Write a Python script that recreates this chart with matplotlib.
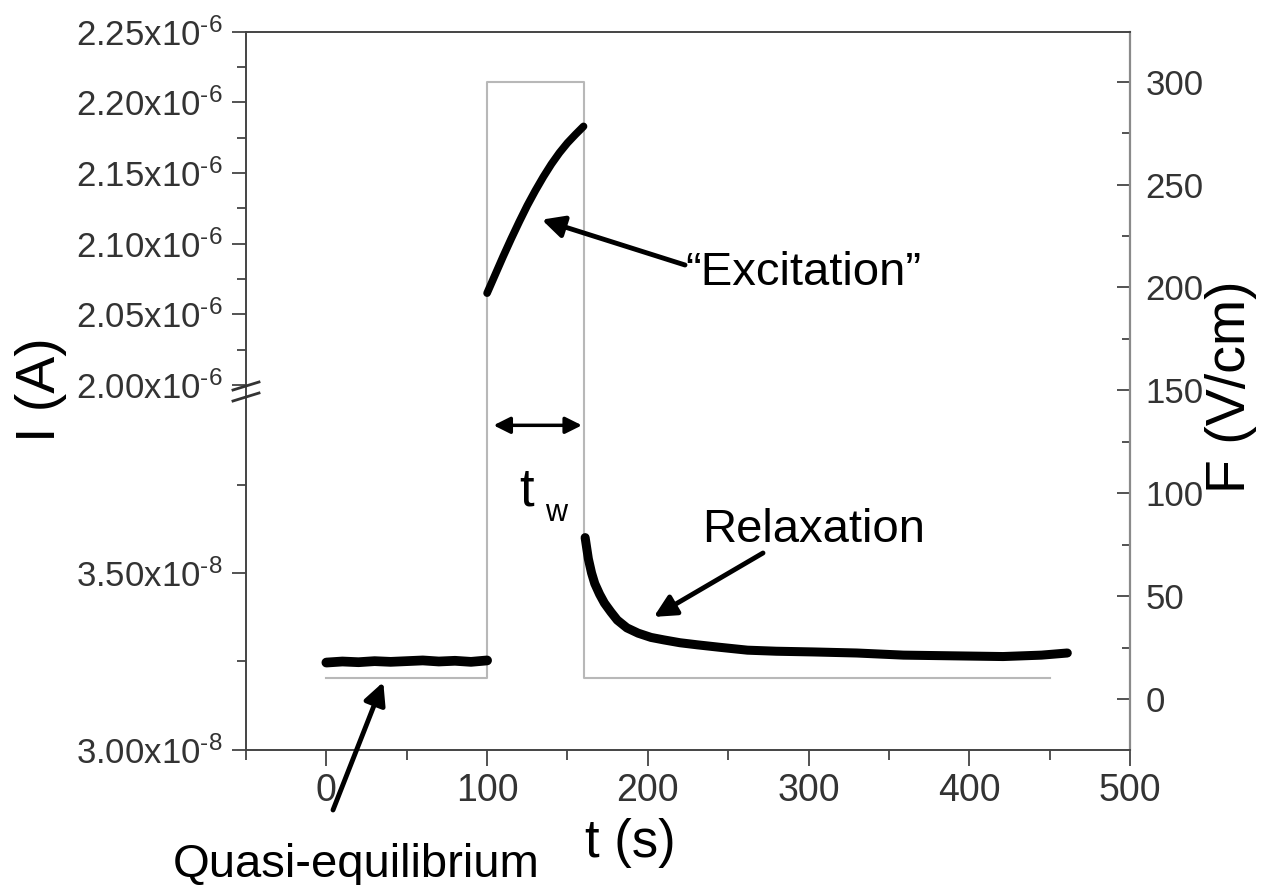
import numpy as np
import matplotlib
matplotlib.use("Agg")
import matplotlib.pyplot as plt
from matplotlib.ticker import FixedLocator, MultipleLocator
from matplotlib.lines import Line2D

plt.rcParams['font.family'] = ['Liberation Sans', 'DejaVu Sans']
plt.rcParams['mathtext.fontset'] = 'custom'
plt.rcParams['mathtext.rm'] = 'Liberation Sans'

# pomiar pradu (A)
t_quasi = [0, 10, 20, 30, 40, 50, 60, 70, 80, 90, 100]
I_quasi = [3.247e-8, 3.250e-8, 3.248e-8, 3.251e-8, 3.249e-8, 3.251e-8,
           3.253e-8, 3.250e-8, 3.252e-8, 3.249e-8, 3.253e-8]

t_exc = [100, 105, 110, 115, 120, 125, 130, 135, 140, 145, 150, 155, 160]
I_exc = [2.0650e-6, 2.0780e-6, 2.0910e-6, 2.1035e-6, 2.1155e-6, 2.1270e-6,
         2.1375e-6, 2.1473e-6, 2.1563e-6, 2.1643e-6, 2.1713e-6, 2.1773e-6,
         2.1830e-6]

t_rel = [161, 162, 163, 165, 167, 170, 173, 177, 181, 187, 194, 202, 210, 220,
         231, 245, 262, 280, 303, 330, 359, 390, 421, 445, 461]
I_rel = [3.600e-8, 3.570e-8, 3.540e-8, 3.500e-8, 3.470e-8, 3.440e-8, 3.415e-8,
         3.390e-8, 3.367e-8, 3.345e-8, 3.330e-8, 3.318e-8, 3.311e-8, 3.303e-8,
         3.297e-8, 3.290e-8, 3.282e-8, 3.279e-8, 3.277e-8, 3.274e-8, 3.268e-8,
         3.266e-8, 3.264e-8, 3.268e-8, 3.274e-8]

# pole elektryczne F (V/cm)
t_field = [0, 100, 160, 450]
F_field = [10, 300, 10, 10]

# osie
upper_ticks = [2.00e-6, 2.05e-6, 2.10e-6, 2.15e-6, 2.20e-6, 2.25e-6]
upper_labels = ['2.00', '2.05', '2.10', '2.15', '2.20', '2.25']
lower_ticks = [3.00e-8, 3.50e-8]
lower_labels = ['3.00', '3.50']
F_ticks = [0, 50, 100, 150, 200, 250, 300]
t_ticks = [0, 100, 200, 300, 400, 500]

W, H = 1261, 885
fig = plt.figure(figsize=(W / 100, H / 100), dpi=100)


def fx(x):
    return x / W


def fy(y):
    return 1 - y / H


def sci(m, e):
    return rf'$\mathregular{{{m}x10^{{\text{{-{e}}}}}}}$'


left, right = fx(246), fx(1130)
bot, top = fy(750), fy(31.7)

ax = fig.add_axes([left, bot, right - left, top - bot])
ax.set_xlim(-50, 500)
ax.set_ylim(-24.8, 324.3)
ax.step(t_field, F_field, where='post', color='#b8b8b8', lw=1.5)
ax.yaxis.tick_right()
ax.yaxis.set_major_locator(FixedLocator(F_ticks))
ax.yaxis.set_minor_locator(MultipleLocator(25))
ax.xaxis.set_major_locator(FixedLocator(t_ticks))
ax.xaxis.set_minor_locator(MultipleLocator(50))
ax.tick_params(axis='y', which='major', direction='in', length=9.5, width=1.3,
               pad=11, labelsize=25, labelcolor='#333333', color='#444444')
ax.tick_params(axis='y', which='minor', direction='in', length=5.5, width=1.3,
               color='#444444')
ax.tick_params(axis='x', which='major', direction='out', length=11.5, width=1.3,
               pad=5, labelsize=27, labelcolor='#333333', color='#444444')
ax.tick_params(axis='x', which='minor', direction='out', length=7, width=1.3,
               color='#444444')
for s in ['left', 'bottom', 'top']:
    ax.spines[s].set_color('#444444')
    ax.spines[s].set_linewidth(1.4)
ax.spines['right'].set_color('#8a8a8a')
ax.spines['right'].set_linewidth(1.6)

# gorna i dolna czesc (przerwana os)
ax_hi = fig.add_axes([left, fy(385), right - left, top - fy(385)])
ax_lo = fig.add_axes([left, bot, right - left, fy(396) - bot])
for a in (ax_hi, ax_lo):
    a.patch.set_alpha(0)
    a.set_xlim(-50, 500)
    for s in a.spines.values():
        s.set_visible(False)
    a.tick_params(axis='x', which='both', bottom=False, labelbottom=False)
    a.tick_params(axis='y', which='major', direction='out', length=10, width=1.3,
                  pad=7, labelsize=25, labelcolor='#333333', color='#444444')
    a.tick_params(axis='y', which='minor', direction='out', length=6.5, width=1.3,
                  color='#444444')

ax_hi.set_ylim(2.00e-6, 2.25e-6)
ax_hi.yaxis.set_major_locator(FixedLocator(upper_ticks))
ax_hi.set_yticklabels([sci(m, 6) for m in upper_labels])
ax_hi.yaxis.set_minor_locator(FixedLocator([2.025e-6, 2.075e-6, 2.125e-6, 2.175e-6, 2.225e-6]))

ax_lo.set_ylim(3.00e-8, 4.00e-8)
ax_lo.yaxis.set_major_locator(FixedLocator(lower_ticks))
ax_lo.set_yticklabels([sci(m, 8) for m in lower_labels])
ax_lo.yaxis.set_minor_locator(FixedLocator([3.25e-8, 3.75e-8]))

ax_hi.plot(t_exc, I_exc, color='black', lw=5.5, solid_capstyle='round',
           solid_joinstyle='round')
ax_lo.plot(t_quasi, I_quasi, color='black', lw=7, solid_capstyle='round')
ax_lo.plot(t_rel, I_rel, color='black', lw=6.5, solid_capstyle='round',
           solid_joinstyle='round')

# znak przerwania osi
for yb in (386, 397):
    fig.add_artist(Line2D([fx(233), fx(259)], [fy(yb + 4), fy(yb - 4)],
                          color='#333333', lw=2))

# opisy osi
fig.text(fx(41), fy(390), 'I (A)', rotation=90, ha='center', va='center', fontsize=40)
fig.text(fx(1231), fy(387), 'F (V/cm)', rotation=90, ha='center', va='center', fontsize=40)
fig.text(fx(630), fy(843), 't (s)', ha='center', va='center', fontsize=38)

# adnotacje
arrow = dict(arrowstyle='-|>,head_length=0.6,head_width=0.3', color='black',
             lw=3.5, mutation_scale=22, shrinkA=0, shrinkB=0)
fig.text(fx(685), fy(285), '\u201cExcitation\u201d', fontsize=34, ha='left', va='baseline')
ax_hi.annotate('', xy=(134, 2.117e-6), xytext=(fx(685), fy(265)),
               textcoords='figure fraction', arrowprops=arrow, annotation_clip=False)

fig.text(fx(702), fy(542), 'Relaxation', fontsize=34, ha='left', va='baseline')
ax_lo.annotate('', xy=(203.7, 3.376e-8), xytext=(fx(763), fy(553)),
               textcoords='figure fraction', arrowprops=arrow, annotation_clip=False)

fig.text(fx(173), fy(877), 'Quasi-equilibrium', fontsize=34, ha='left', va='baseline')
ax_lo.annotate('', xy=(35.4, 3.192e-8), xytext=(fx(333), fy(810)),
               textcoords='figure fraction', arrowprops=arrow, annotation_clip=False)

ax.annotate('', xy=(104, 133), xytext=(159, 133),
            arrowprops=dict(arrowstyle='<|-|>,head_length=0.5,head_width=0.25',
                            color='black', lw=2.5, mutation_scale=20,
                            shrinkA=0, shrinkB=0))
fig.text(fx(519), fy(506), 't', fontsize=38, ha='left', va='baseline')
fig.text(fx(545), fy(521), 'w', fontsize=22, ha='left', va='baseline')

fig.savefig('out.png', dpi=100)
